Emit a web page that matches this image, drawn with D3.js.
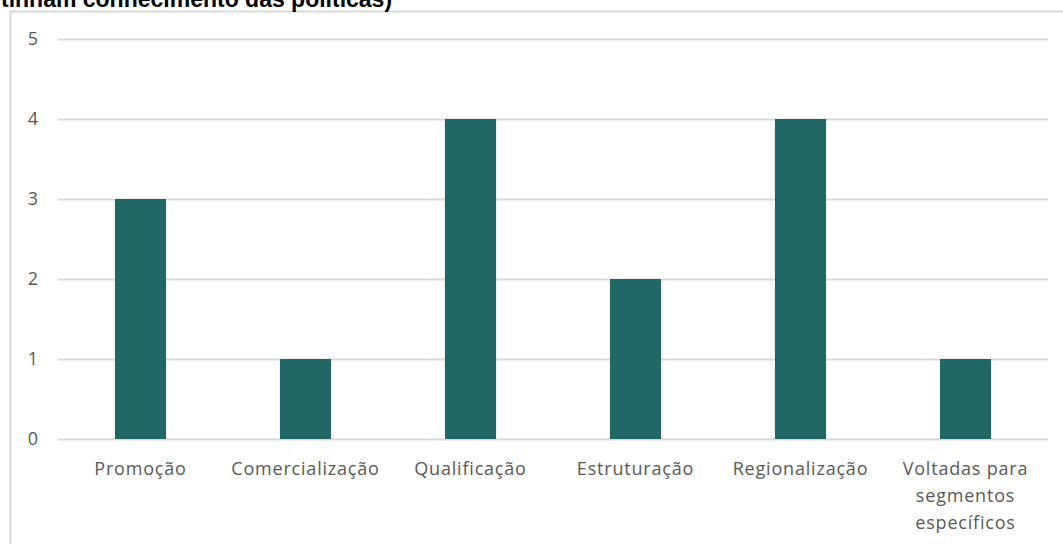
<!DOCTYPE html>
<html>
<head>
<meta charset="utf-8">
<script src="https://cdn.jsdelivr.net/npm/d3@7"></script>
<style>
  body { margin: 0; background: #fff; }
  svg { display: block; }
</style>
</head>
<body>
<svg id="chart" width="1063" height="544"></svg>
<script>
// values
var categories = ['Promoção', 'Comercialização', 'Qualificação', 'Estruturação', 'Regionalização', 'Voltadas para segmentos específicos'];
var values = [3, 1, 4, 2, 4, 1];
var y_ticks = [0, 1, 2, 3, 4, 5];
var title_text = 'tinham conhecimento das políticas)';

var width = 1063, height = 544;
var margin = {top: 39, right: 15, bottom: 105, left: 58};

var svg = d3.select('#chart');

// chart frame (border of the embedded chart)
svg.append('rect')
   .attr('x', 10.5)
   .attr('y', 11.5)
   .attr('width', 1100)
   .attr('height', 600)
   .attr('fill', 'white')
   .attr('stroke', '#d9d9d9')
   .attr('stroke-width', 2);

// title, cut off at the top
svg.append('text')
   .attr('x', 1)
   .attr('y', 7)
   .attr('font-family', 'Liberation Sans, Arial, sans-serif')
   .attr('font-weight', 'bold')
   .attr('font-size', 23)
   .attr('fill', 'black')
   .text(title_text);

var x = d3.scaleBand()
          .domain(categories)
          .range([margin.left, width - margin.right])
          .paddingInner(0.69)
          .paddingOuter(0.345);

var y = d3.scaleLinear()
          .domain([0, 5])
          .range([height - margin.bottom, margin.top]);

var g = svg.append('g');

// gridlines
g.selectAll('line.grid')
 .data(y_ticks)
 .enter()
 .append('line')
 .attr('class', 'grid')
 .attr('x1', margin.left)
 .attr('x2', width - margin.right)
 .attr('y1', d => Math.round(y(d)) + 0.5)
 .attr('y2', d => Math.round(y(d)) + 0.5)
 .attr('stroke', '#d9d9d9')
 .attr('stroke-width', 2);

// y tick labels
g.selectAll('text.ytick')
 .data(y_ticks)
 .enter()
 .append('text')
 .attr('class', 'ytick')
 .attr('x', 38)
 .attr('y', d => y(d))
 .attr('dy', '0.35em')
 .attr('text-anchor', 'end')
 .attr('font-family', 'Open Sans, sans-serif')
 .attr('font-size', 18)
 .attr('fill', '#595959')
 .text(d => d);

// bars
g.selectAll('rect.bar')
 .data(values)
 .enter()
 .append('rect')
 .attr('class', 'bar')
 .attr('x', (d, i) => x(categories[i]))
 .attr('width', x.bandwidth())
 .attr('y', d => y(d))
 .attr('height', d => y(0) - y(d))
 .attr('fill', '#216864');

// x labels, wrapped like the reference
var label_lines = {'Voltadas para segmentos específicos': ['Voltadas para', 'segmentos', 'específicos']};

categories.forEach(c => {
  var lines = label_lines[c] || [c];
  var t = g.append('text')
           .attr('text-anchor', 'middle')
           .attr('font-family', 'Open Sans, sans-serif')
           .attr('font-size', 18)
           .attr('letter-spacing', 0.8)
           .attr('fill', '#595959');
  lines.forEach((l, k) => {
    t.append('tspan')
     .attr('x', x(c) + x.bandwidth() / 2)
     .attr('y', 475 + k * 27)
     .text(l);
  });
});
</script>
</body>
</html>
